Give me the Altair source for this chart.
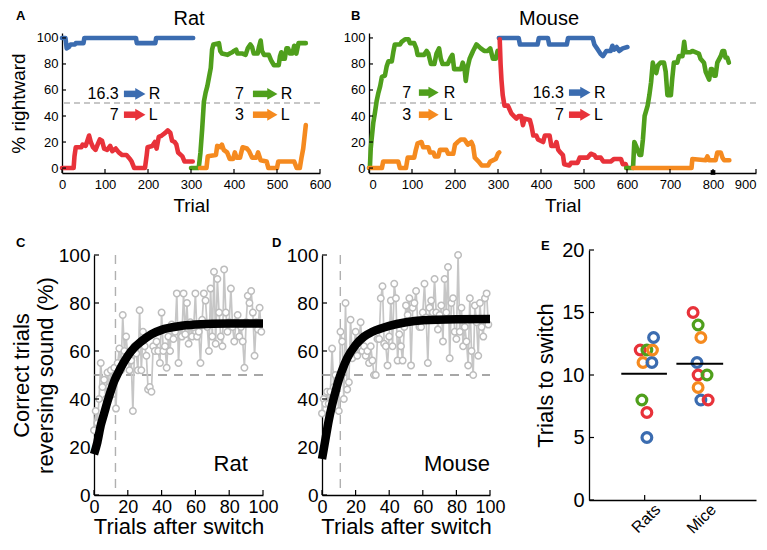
import altair as alt
import pandas as pd

FONT = "Liberation Sans"

# ---------------- Panels A (rat) and B (mouse): % rightward vs trial ----------------
COND_NAMES = ["16.3→R", "7→L", "7→R", "3→L"]
COND_COLORS = ["#3b6cb0", "#e8323a", "#4f9f1c", "#f58a1f"]

RAT_BLUE_T = [0, 8, 11, 16, 20, 30, 32, 50, 52, 172, 174, 217, 219, 305]
RAT_BLUE_V = [100, 100, 92, 93, 95, 95, 96, 96, 100, 100, 96, 96, 100, 100]
RAT_RED_T = [0, 27, 29, 32, 45, 48, 55, 60, 63, 67, 72, 78, 84, 88, 93, 98, 105, 112, 117, 125,
             132, 140, 150, 158, 162, 168, 193, 197, 199, 210, 216, 220, 225, 232, 240, 246, 252,
             256, 262, 266, 270, 280, 285, 300, 304]
RAT_RED_V = [0, 0, 9, 16, 16, 18, 17, 22, 25, 20, 16, 14, 19, 22, 21, 15, 14, 17, 13, 15,
             12, 10, 10, 7, 5, 0, 0, 10, 16, 17, 20, 15, 24, 25, 27, 29, 27,
             21, 20, 18, 12, 9, 5, 5, 5]
RAT_GREEN_T = [300, 318, 322, 326, 330, 334, 338, 342, 346, 349, 352, 365, 368, 372, 385, 390,
               396, 400, 405, 408, 420, 427, 432, 438, 442, 446, 455, 458, 462, 465, 470, 481,
               486, 493, 504, 507, 510, 513, 518, 522, 526, 530, 536, 540, 545, 550, 567]
RAT_GREEN_V = [0, 0, 12, 30, 51, 58, 63, 70, 77, 91, 95, 96, 90, 88, 87, 88,
               89, 90, 91, 88, 88, 87, 92, 95, 93, 88, 88, 93, 98, 90, 87, 87,
               83, 79, 79, 86, 89, 84, 84, 92, 92, 88, 88, 94, 88, 96, 96]
RAT_ORANGE_T = [321, 336, 339, 358, 361, 368, 372, 376, 384, 390, 398, 402, 406, 414, 420, 430,
                435, 442, 452, 456, 462, 476, 480, 500, 503, 540, 546, 553, 557, 561, 564, 567]
RAT_ORANGE_V = [0, 0, 9, 10, 17, 16, 18, 14, 12, 7, 7, 12, 8, 8, 16, 15,
                13, 8, 8, 12, 6, 5, 0, 0, 5, 5, 0, 0, 8, 15, 24, 33]

MOUSE_GREEN1_T = [0, 2, 4, 6, 10, 14, 18, 22, 26, 30, 37, 41, 45, 53, 57, 60, 72, 76, 84, 92,
                  95, 105, 110, 113, 128, 134, 138, 144, 152, 157, 163, 167, 171, 183, 190, 194,
                  198, 214, 218, 222, 225, 229, 234, 242, 250, 260, 268, 276, 282, 288, 295, 299]
MOUSE_GREEN1_V = [0, 0, 15, 22, 35, 43, 52, 58, 63, 70, 71, 78, 82, 82, 90, 95, 95, 97, 99, 99,
                  96, 96, 92, 87, 87, 90, 88, 80, 80, 88, 92, 84, 80, 80, 85, 87,
                  76, 76, 81, 77, 67, 77, 84, 90, 95, 92, 90, 90, 92, 84, 84, 90]
MOUSE_ORANGE1_T = [0, 30, 33, 68, 72, 86, 90, 105, 109, 113, 122, 126, 138, 142, 150, 153, 161,
                   165, 180, 184, 196, 200, 206, 214, 222, 230, 238, 242, 246, 255, 262, 277,
                   282, 295, 300, 303]
MOUSE_ORANGE1_V = [0, 0, 5, 5, 0, 0, 8, 8, 14, 19, 20, 16, 16, 12, 12, 9, 9,
                   14, 14, 11, 11, 18, 20, 22, 22, 18, 20, 17, 8, 5, 2, 2,
                   5, 7, 11, 12]
MOUSE_BLUE_T = [302, 348, 351, 392, 395, 416, 419, 460, 463, 520, 524, 530, 538, 544, 548, 552,
                562, 566, 570, 576, 582, 590, 601]
MOUSE_BLUE_V = [100, 100, 95, 95, 100, 100, 95, 95, 100, 100, 95, 92, 88, 86, 88, 90,
                90, 94, 91, 93, 90, 92, 93]
MOUSE_RED_T = [304, 306, 308, 311, 315, 323, 327, 331, 337, 343, 348, 354, 358, 362, 374, 378,
               382, 389, 393, 405, 409, 420, 424, 432, 436, 440, 445, 451, 454, 466, 470, 485,
               490, 508, 516, 524, 528, 539, 545, 562, 570, 586, 590, 597, 600]
MOUSE_RED_V = [99, 80, 68, 56, 48, 48, 45, 42, 40, 38, 40, 40, 33, 38, 37, 32,
               25, 25, 22, 20, 25, 25, 17, 17, 20, 14, 12, 10, 3, 2, 4, 4,
               8, 8, 11, 10, 8, 8, 5, 5, 7, 7, 3, 3, 0]
MOUSE_GREEN2_T = [598, 614, 617, 621, 629, 633, 637, 641, 648, 652, 656, 660, 664, 668, 672, 678,
                  686, 690, 694, 702, 705, 709, 717, 721, 729, 733, 736, 748, 752, 767, 771, 779,
                  783, 791, 795, 798, 803, 806, 810, 818, 822, 826, 829, 833, 837]
MOUSE_GREEN2_V = [0, 0, 20, 17, 10, 10, 22, 40, 48, 56, 66, 81, 75, 73, 79, 81,
                  81, 74, 56, 56, 68, 81, 81, 86, 86, 97, 89, 89, 90, 88, 84, 81,
                  74, 68, 76, 76, 71, 71, 81, 86, 90, 90, 85, 85, 81]
MOUSE_ORANGE2_T = [614, 750, 752, 783, 787, 791, 806, 810, 818, 822, 826, 838]
MOUSE_ORANGE2_V = [0, 0, 7, 6, 9, 6, 6, 12, 12, 8, 6, 6]
MOUSE_MARK_T = [800]
MOUSE_MARK_V = [-3.4]

Y_TICKS_AB = [0, 20, 40, 60, 80, 100]
X_TICKS_A = [0, 100, 200, 300, 400, 500, 600]
X_TICKS_B = [0, 100, 200, 300, 400, 500, 600, 700, 800, 900]

# annotation rows: number, side letter, arrow (tail, tip), level, condition
ANN_A_NUM = ["16.3", "7", "7", "3"]
ANN_A_NUM_T = [132, 132, 423, 423]
ANN_A_SIDE = ["R", "L", "R", "L"]
ANN_A_SIDE_T = [202, 202, 509, 509]
ANN_A_ARROW_T0 = [144, 144, 444, 444]
ANN_A_ARROW_T1 = [195, 195, 502, 502]
ANN_A_V = [57, 41, 57, 41]
ANN_A_COND = ["16.3→R", "7→L", "7→R", "3→L"]

ANN_B_NUM = ["7", "3", "16.3", "7"]
ANN_B_NUM_T = [98, 98, 453, 453]
ANN_B_SIDE = ["R", "L", "R", "L"]
ANN_B_SIDE_T = [174, 174, 523, 523]
ANN_B_ARROW_T0 = [116, 116, 465, 465]
ANN_B_ARROW_T1 = [163, 163, 516, 516]
ANN_B_V = [58, 41, 58, 41]
ANN_B_COND = ["7→R", "3→L", "16.3→R", "7→L"]

# ---------------- Panels C and D: correct reversal trials after the switch ----------------
C_V = [27, 35, 30, 40, 55, 45, 48, 40, 51, 45,
       52, 42, 53, 36, 55, 61, 52, 75, 60, 66,
       58, 52, 56, 35, 62, 59, 52, 77, 52, 68,
       62, 58, 44, 45, 43, 62, 60, 64, 60, 55,
       76, 60, 62, 53, 66, 60, 71, 65, 68, 84,
       55, 70, 66, 84, 67, 80, 63, 72, 66, 70,
       84, 66, 68, 55, 73, 84, 81, 70, 60, 86,
       66, 93, 63, 90, 76, 66, 62, 94, 76, 68,
       72, 86, 70, 64, 72, 75, 66, 70, 64, 53,
       72, 83, 80, 85, 76, 58, 72, 69, 78, 68]
D_V = [34, 40, 38, 43, 38, 43, 61, 45, 50, 44,
       35, 68, 64, 40, 80, 44, 47, 73, 57, 62,
       68, 58, 64, 72, 60, 62, 58, 60, 55, 62,
       56, 50, 50, 65, 65, 82, 87, 63, 62, 54,
       66, 81, 62, 88, 82, 56, 67, 62, 56, 70,
       79, 75, 82, 54, 78, 80, 85, 72, 70, 70,
       76, 88, 74, 55, 78, 81, 76, 90, 76, 69,
       75, 79, 64, 90, 76, 95, 57, 80, 82, 68,
       65, 100, 68, 78, 62, 70, 64, 54, 82, 60,
       50, 79, 72, 58, 80, 70, 66, 82, 84, 71]
C_FIT_T = [0, 2, 4, 6, 8, 10, 12, 14, 17, 20, 24, 28, 34, 40, 50, 60, 80, 100]
C_FIT_V = [17, 22, 29, 34, 39, 43.5, 47.5, 50.5, 54.5, 58, 61.5, 64, 67, 68.8, 70.3, 71, 71.5, 71.5]
D_FIT_T = [0, 2, 4, 6, 8, 10, 12, 15, 20, 25, 30, 40, 50, 60, 80, 100]
D_FIT_V = [15, 23, 31, 37.5, 43, 48, 52, 57, 62.5, 66, 68, 70.5, 72, 72.8, 73.2, 73.3]
C_SWITCH = 12.7
D_SWITCH = 10.9
CD_TICKS = [0, 20, 40, 60, 80, 100]

# ---------------- Panel E: trials to switch ----------------
E_CATS = ["Rats", "Mice"]
E_CAT_POS = [1, 2]
E_IDS = ["r1", "r2", "r3", "r4", "r5", "r6", "r7", "r8", "r9",
         "m1", "m2", "m3", "m4", "m5", "m6", "m7", "m8", "m9"]
E_X = [1.04, 1.04, 0.95, 0.97, 1.13, 0.92, 1.04, 1.14, 1.16,
       1.87, 1.96, 2.01, 1.94, 1.96, 2.12, 1.96, 2.01, 2.14]
E_Y = [5, 7, 8, 11, 11, 12, 12, 12, 13,
       15, 14, 13, 11, 10, 10, 9, 8, 8]
E_COLORS = ["#e8343a", "#7b5a92", "#3f9a25", "#c98a22", "#6fd62c", "#8a5a18", "#5f6468", "#b5121b", "#7aa9db",
            "#b5121b", "#3f9a25", "#e8343a", "#7b5a92", "#6fd62c", "#8a5a18", "#c98a22", "#7aa9db", "#5f6468"]
E_MEAN = [10.1, 10.9]
E_MEAN_X0 = [0.58, 1.57]
E_MEAN_X1 = [1.40, 2.41]
E_TICKS = [0, 5, 10, 15, 20]

# ---------------- layout (pixels) ----------------
W_A, W_B, H_TOP = 258, 387, 140
W_C, C_PAD, W_D, H_CD = 169, 32, 168, 240
W_E, E_PAD, H_E = 167, 40, 250

AX = dict(ticks=False, grid=False, domainColor="black", domainWidth=1.3, labelColor="black",
          titleColor="black", labelOverlap=False, titleFontWeight="normal",
          labelFont=FONT, titleFont=FONT)


def txt(s, x, y, size, weight="normal", align="left"):
    return alt.Chart(pd.DataFrame({"s": [s]})).mark_text(
        font=FONT, fontSize=size, fontWeight=weight, align=align, baseline="alphabetic", color="black"
    ).encode(text="s:N", x=alt.value(x), y=alt.value(y))


def marker(x, y):
    return alt.Chart(pd.DataFrame({"s": ["m"]})).mark_point(
        size=1, filled=True, color="white", opacity=1, shape="square"
    ).encode(x=alt.value(x), y=alt.value(y))


def xticks(field, values, h, length, axis):
    return alt.Chart(pd.DataFrame({field: values})).mark_rule(color="black", strokeWidth=1.2).encode(
        x=alt.X(f"{field}:Q", axis=axis), y=alt.value(h), y2=alt.value(h - length))


def yticks(field, values, x0, length, axis):
    return alt.Chart(pd.DataFrame({field: values})).mark_rule(color="black", strokeWidth=1.2).encode(
        y=alt.Y(f"{field}:Q", axis=axis), x=alt.value(x0), x2=alt.value(x0 + length))


def seg_df(pairs):
    frames = []
    for k, (t, v, cond) in enumerate(pairs):
        frames.append(pd.DataFrame({"t": t, "v": v, "cond": cond, "seg": k, "i": list(range(len(t)))}))
    return pd.concat(frames, ignore_index=True)


def trial_panel(segs, xmax, width, xtick_vals, ann, ytitle, letter, letter_x, title, title_x, flush, extra):
    xs = alt.Scale(domain=[0, xmax], nice=False, zero=False)
    ys = alt.Scale(domain=[-3.8, 103.8], nice=False, zero=False)
    color = alt.Color("cond:N", scale=alt.Scale(domain=COND_NAMES, range=COND_COLORS), legend=None)
    xa = alt.Axis(values=xtick_vals, title="Trial", labelFontSize=13, titleFontSize=19,
                  labelPadding=5, titlePadding=5, labelFlush=flush, **AX)
    ya = alt.Axis(values=Y_TICKS_AB, title=ytitle, labelFontSize=13, titleFontSize=19,
                  labelPadding=4, titlePadding=8, labelFlush=False, **AX)
    df = seg_df(segs)
    base_rule = alt.Chart(pd.DataFrame({"v": [50]})).mark_rule(
        color="#8f8f8f", strokeDash=[6, 4], strokeWidth=1.2).encode(y=alt.Y("v:Q", scale=ys, axis=ya))
    lines = alt.Chart(df).mark_line(strokeWidth=4.6, strokeJoin="round", strokeCap="round").encode(
        x=alt.X("t:Q", scale=xs, axis=xa), y=alt.Y("v:Q", scale=ys, axis=ya),
        color=color, detail="seg:N", order="i:Q")
    num, num_t, side, side_t, a0, a1, lv, cond = ann
    adf = pd.DataFrame({"num": num, "nt": num_t, "side": side, "st": side_t, "a0": a0,
                        "a1": a1, "v": lv, "cond": cond})
    adf["shaft_end"] = adf["a1"] - 9 / (width / xmax)
    adf["head"] = adf["a1"] - 5.5 / (width / xmax)
    t_num = alt.Chart(adf).mark_text(font=FONT, fontSize=16, align="right", baseline="middle", color="black").encode(
        x=alt.X("nt:Q", axis=xa), y=alt.Y("v:Q", axis=ya), text="num:N")
    t_side = alt.Chart(adf).mark_text(font=FONT, fontSize=16, align="left", baseline="middle", color="black").encode(
        x=alt.X("st:Q", axis=xa), y=alt.Y("v:Q", axis=ya), text="side:N")
    shaft = alt.Chart(adf).mark_rule(strokeWidth=6.5).encode(
        x=alt.X("a0:Q", axis=xa), x2="shaft_end:Q", y=alt.Y("v:Q", axis=ya), color=color)
    head = alt.Chart(adf).mark_point(shape="triangle-right", filled=True, size=140, opacity=1).encode(
        x=alt.X("head:Q", axis=xa), y=alt.Y("v:Q", axis=ya), color=color)
    layers = [base_rule, lines, shaft, head, t_num, t_side,
              xticks("t", xtick_vals, H_TOP, 4, xa), yticks("v", Y_TICKS_AB, 0, 4, ya),
              txt(letter, letter_x, -13, 13, "bold"), txt(title, title_x, -8, 20, align="center")]
    layers += [e(xa, ya) for e in extra]
    return alt.layer(*layers).properties(width=width, height=H_TOP)


A = trial_panel(
    [(RAT_BLUE_T, RAT_BLUE_V, "16.3→R"), (RAT_RED_T, RAT_RED_V, "7→L"),
     (RAT_GREEN_T, RAT_GREEN_V, "7→R"), (RAT_ORANGE_T, RAT_ORANGE_V, "3→L")],
    600, W_A, X_TICKS_A,
    (ANN_A_NUM, ANN_A_NUM_T, ANN_A_SIDE, ANN_A_SIDE_T, ANN_A_ARROW_T0, ANN_A_ARROW_T1, ANN_A_V, ANN_A_COND),
    "% rightward", "A", -46, "Rat", 127, False,
    [lambda xa, ya: marker(-53, -24), lambda xa, ya: marker(-53, 190)])

mark_df = pd.DataFrame({"t": MOUSE_MARK_T, "v": MOUSE_MARK_V})
B = trial_panel(
    [(MOUSE_GREEN1_T, MOUSE_GREEN1_V, "7→R"), (MOUSE_ORANGE1_T, MOUSE_ORANGE1_V, "3→L"),
     (MOUSE_BLUE_T, MOUSE_BLUE_V, "16.3→R"), (MOUSE_RED_T, MOUSE_RED_V, "7→L"),
     (MOUSE_GREEN2_T, MOUSE_GREEN2_V, "7→R"), (MOUSE_ORANGE2_T, MOUSE_ORANGE2_V, "3→L")],
    900, W_B, X_TICKS_B,
    (ANN_B_NUM, ANN_B_NUM_T, ANN_B_SIDE, ANN_B_SIDE_T, ANN_B_ARROW_T0, ANN_B_ARROW_T1, ANN_B_V, ANN_B_COND),
    None, "B", -18, "Mouse", 180, True,
    [lambda xa, ya: alt.Chart(mark_df).mark_square(color="black", size=22, opacity=1).encode(
        x=alt.X("t:Q", axis=xa), y=alt.Y("v:Q", axis=ya))])


def reversal_panel(vals, fit_t, fit_v, switch, label, width, pad, ytitle, letter, letter_x, extra):
    xs = alt.Scale(domain=[0, 100], range=[pad, pad + width], nice=False, zero=False)
    ys = alt.Scale(domain=[0, 100], nice=False, zero=False)
    xa = alt.Axis(values=CD_TICKS, title="Trials after switch", labelFontSize=18, titleFontSize=22,
                  labelPadding=3, titlePadding=0, labelFlush=False, **AX)
    yk = dict(values=CD_TICKS, title=ytitle, labelFontSize=19, titleFontSize=22,
              titleLineHeight=24, labelPadding=4, titlePadding=1, labelFlush=False, **AX)
    if pad:
        yk["offset"] = -pad
    ya = alt.Axis(**yk)
    pts = pd.DataFrame({"t": list(range(len(vals))), "v": vals})
    fit = pd.DataFrame({"t": fit_t, "v": fit_v})
    hline = alt.Chart(pd.DataFrame({"v": [50], "t0": [0], "t1": [100]})).mark_rule(
        color="#8a8a8a", strokeDash=[9, 7], strokeWidth=1.4).encode(
        x=alt.X("t0:Q", scale=xs, axis=xa), x2="t1:Q", y=alt.Y("v:Q", scale=ys, axis=ya))
    vline = alt.Chart(pd.DataFrame({"t": [switch]})).mark_rule(
        color="#b0b0b0", strokeDash=[9, 7], strokeWidth=1.4).encode(x=alt.X("t:Q", axis=xa))
    gl = alt.Chart(pts).mark_line(color="#c6c6c6", strokeWidth=1.7).encode(
        x=alt.X("t:Q", axis=xa), y=alt.Y("v:Q", axis=ya))
    gp = alt.Chart(pts).mark_point(shape="circle", filled=True, fill="white", stroke="#bdbdbd",
                                   strokeWidth=1.5, size=42, opacity=1).encode(
        x=alt.X("t:Q", axis=xa), y=alt.Y("v:Q", axis=ya))
    fl = alt.Chart(fit).mark_line(color="black", strokeWidth=8.5, interpolate="monotone").encode(
        x=alt.X("t:Q", axis=xa), y=alt.Y("v:Q", axis=ya))
    lab = alt.Chart(pd.DataFrame({"t": [label[1]], "v": [10], "s": [label[0]]})).mark_text(
        font=FONT, fontSize=22, align="right", baseline="alphabetic", color="black").encode(
        x=alt.X("t:Q", axis=xa), y=alt.Y("v:Q", axis=ya), text="s:N")
    layers = [hline, vline, gl, gp, fl, lab,
              xticks("t", CD_TICKS, H_CD, 5, xa), yticks("v", CD_TICKS, pad, 5, ya),
              txt(letter, letter_x, -8, 13, "bold")] + extra
    return alt.layer(*layers).properties(width=width + pad, height=H_CD)


C = reversal_panel(C_V, C_FIT_T, C_FIT_V, C_SWITCH, ("Rat", 91), W_C, C_PAD,
                   ["Correct trials", "reversing sound (%)"], "C", -46, [marker(C_PAD, -25)])
D = reversal_panel(D_V, D_FIT_T, D_FIT_V, D_SWITCH, ("Mouse", 100), W_D, 0, None, "D", -50, [])

# Panel E
exs = alt.Scale(domain=[0, 3], range=[E_PAD, E_PAD + W_E], nice=False, zero=False)
eys = alt.Scale(domain=[0, 20], nice=False, zero=False)
label_expr = f"datum.value == {E_CAT_POS[0]} ? '{E_CATS[0]}' : '{E_CATS[1]}'"
exa = alt.Axis(values=E_CAT_POS, labelExpr=label_expr, title=None, labelAngle=-45, labelAlign="right",
               labelBaseline="top", labelOffset=7, labelPadding=1, labelFontSize=16, labelFlush=False, **AX)
eya = alt.Axis(values=E_TICKS, title="Trials to switch", labelFontSize=20, titleFontSize=22,
               labelPadding=5, titlePadding=4, offset=-E_PAD, labelFlush=False, **AX)
edf = pd.DataFrame({"id": E_IDS, "x": E_X, "v": E_Y})
rings = alt.Chart(edf).mark_point(shape="circle", filled=False, size=95, strokeWidth=3.2, opacity=1).encode(
    x=alt.X("x:Q", scale=exs, axis=exa), y=alt.Y("v:Q", scale=eys, axis=eya),
    color=alt.Color("id:N", scale=alt.Scale(domain=E_IDS, range=E_COLORS), legend=None))
mdf = pd.DataFrame({"x0": E_MEAN_X0, "x1": E_MEAN_X1, "v": E_MEAN})
means = alt.Chart(mdf).mark_rule(color="black", strokeWidth=2).encode(
    x=alt.X("x0:Q", axis=exa), x2="x1:Q", y=alt.Y("v:Q", axis=eya))
E = alt.layer(
    rings, means,
    xticks("x", E_CAT_POS, H_E, 5, exa), yticks("v", E_TICKS, E_PAD, 5, eya),
    txt("E", -8, 0, 13, "bold"),
).properties(width=W_E + E_PAD, height=H_E)

row1 = alt.hconcat(A, B, spacing=49, bounds="flush")
row2 = alt.hconcat(C, D, E, spacing=59, bounds="flush", center=True)
chart = alt.concat(row1, row2, columns=1, spacing=5, padding=0).configure(padding=0).configure_view(
    strokeWidth=0).configure_axis(labelFont=FONT, titleFont=FONT, labelOverlap=False)

chart.save("out.html", embed_options={"renderer": "svg", "actions": False})
